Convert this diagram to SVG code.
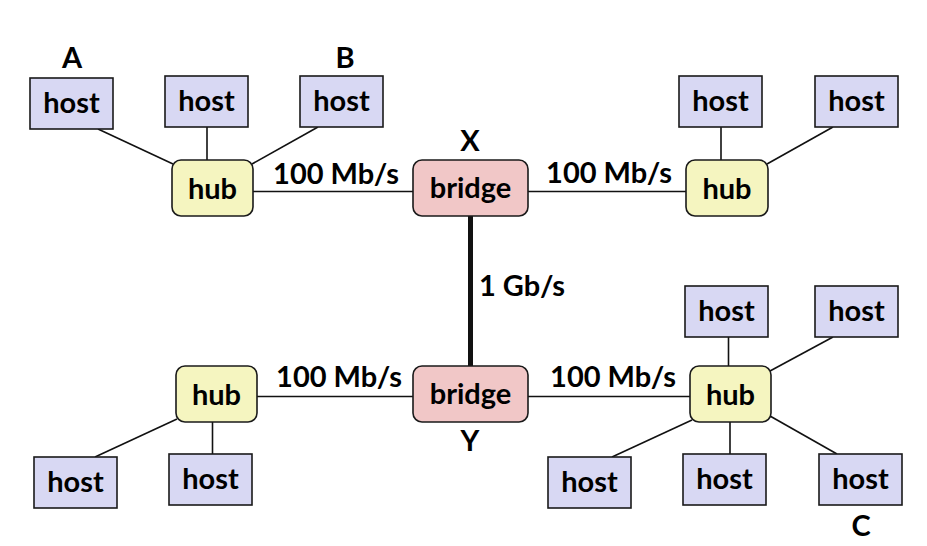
<svg xmlns="http://www.w3.org/2000/svg" width="927" height="546" viewBox="0 0 927 546">
<style>
text{font-family:Lato,"Liberation Sans",sans-serif;font-weight:bold;fill:#000;text-anchor:middle}
.t{font-size:29px}
.host rect{fill:#d8d8f3;stroke:#1a1a1a;stroke-width:1.6}
.hub rect{fill:#f5f5c0;stroke:#1a1a1a;stroke-width:1.6}
.bridge rect{fill:#f1c7c7;stroke:#1a1a1a;stroke-width:1.6}
.c line{stroke:#111;stroke-width:1.6}
.c line.thick{stroke-width:5}
</style>
<rect width="927" height="546" fill="#fff"/>
<g id="connectors" class="c">
<line x1="98" y1="129" x2="173" y2="164"/>
<line x1="207" y1="127" x2="207" y2="160"/>
<line x1="318" y1="127" x2="252" y2="164"/>
<line x1="253" y1="191.5" x2="413" y2="191.5"/>
<line x1="528" y1="191.5" x2="686" y2="191.5"/>
<line x1="721" y1="127" x2="721" y2="160"/>
<line x1="833" y1="127" x2="767" y2="164"/>
<line class="thick" x1="470.5" y1="216" x2="470.5" y2="366"/>
<line x1="257" y1="396.5" x2="413" y2="396.5"/>
<line x1="528" y1="396.5" x2="690" y2="396.5"/>
<line x1="177" y1="419" x2="95" y2="457"/>
<line x1="212.5" y1="422" x2="212.5" y2="454"/>
<line x1="728.5" y1="337" x2="728.5" y2="366"/>
<line x1="833" y1="337" x2="770" y2="371"/>
<line x1="692" y1="420" x2="612" y2="457"/>
<line x1="730" y1="422" x2="730" y2="454"/>
<line x1="770" y1="416" x2="837" y2="454"/>
</g>
<g id="hostA" class="host"><rect x="30" y="78" width="83" height="51"/><text class="t" x="71.5" y="113">host</text></g>
<g id="host2" class="host"><rect x="165" y="76" width="83" height="51"/><text class="t" x="206.5" y="111">host</text></g>
<g id="hostB" class="host"><rect x="300" y="76" width="83" height="51"/><text class="t" x="341.5" y="111">host</text></g>
<g id="hub1" class="hub"><rect x="172" y="160" width="81" height="56" rx="9"/><text class="t" x="212.5" y="199">hub</text></g>
<g id="bridgeX" class="bridge"><rect x="413" y="160" width="115" height="56" rx="9"/><text class="t" x="470.5" y="198">bridge</text></g>
<g id="hub2" class="hub"><rect x="686" y="160" width="82" height="56" rx="9"/><text class="t" x="727" y="199">hub</text></g>
<g id="host4" class="host"><rect x="679" y="76" width="83" height="51"/><text class="t" x="720.5" y="111">host</text></g>
<g id="host5" class="host"><rect x="815" y="76" width="83" height="51"/><text class="t" x="856.5" y="111">host</text></g>
<g id="hub3" class="hub"><rect x="176" y="366" width="81" height="56" rx="9"/><text class="t" x="216.5" y="405">hub</text></g>
<g id="bridgeY" class="bridge"><rect x="413" y="366" width="115" height="56" rx="9"/><text class="t" x="470.5" y="404">bridge</text></g>
<g id="hub4" class="hub"><rect x="690" y="366" width="81" height="56" rx="9"/><text class="t" x="730.5" y="405">hub</text></g>
<g id="host6" class="host"><rect x="34" y="457" width="83" height="51"/><text class="t" x="75.5" y="492">host</text></g>
<g id="host7" class="host"><rect x="169" y="454" width="83" height="51"/><text class="t" x="210.5" y="489">host</text></g>
<g id="host8" class="host"><rect x="685" y="286" width="83" height="51"/><text class="t" x="726.5" y="321">host</text></g>
<g id="host9" class="host"><rect x="815" y="286" width="83" height="51"/><text class="t" x="856.5" y="321">host</text></g>
<g id="host10" class="host"><rect x="548" y="457" width="83" height="51"/><text class="t" x="589.5" y="492">host</text></g>
<g id="host11" class="host"><rect x="683" y="454" width="83" height="51"/><text class="t" x="724.5" y="489">host</text></g>
<g id="hostC" class="host"><rect x="819" y="454" width="83" height="51"/><text class="t" x="860.5" y="489">host</text></g>
<g id="labels">
<text class="t" x="72" y="68">A</text>
<text class="t" x="345" y="68">B</text>
<text class="t" x="470" y="151">X</text>
<text class="t" x="470" y="451">Y</text>
<text class="t" x="861" y="536">C</text>
<text class="t" x="336" y="184">100 Mb/s</text>
<text class="t" x="609" y="183">100 Mb/s</text>
<text class="t" x="339" y="387">100 Mb/s</text>
<text class="t" x="613" y="387">100 Mb/s</text>
<text class="t" x="522" y="296">1 Gb/s</text>
</g>
</svg>
